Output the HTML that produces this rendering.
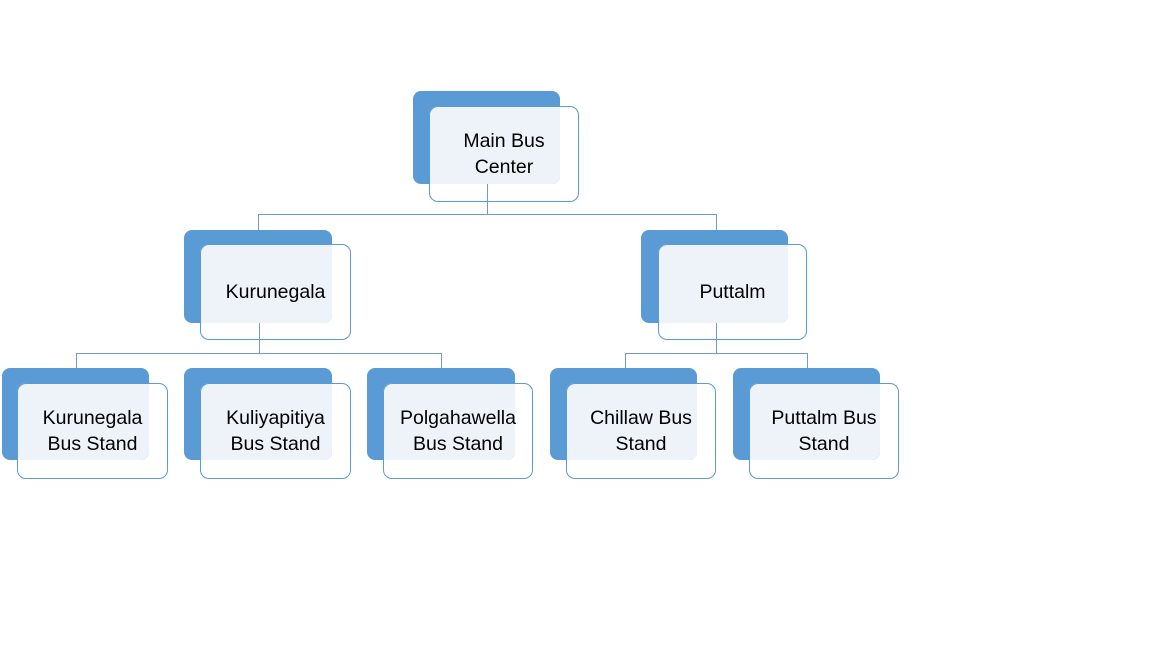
<!DOCTYPE html>
<html><head><meta charset="utf-8"><style>
body{margin:0;width:1152px;height:648px;background:#fff;position:relative;overflow:hidden;font-family:"Liberation Sans",sans-serif}
.b{position:absolute;background:#5b9bd5;border-radius:8px}
.o{position:absolute;background:#eef3fa;border-radius:9px 0 8px 0}
.f{position:absolute;border:1px solid #5b9bd5;border-radius:9px;box-sizing:border-box;display:flex;align-items:center;justify-content:center;text-align:center;font-size:19.5px;line-height:26px;color:#000}
.l{position:absolute;background:#6e9bc8}
</style></head><body>
<div class="l" style="left:487px;top:184px;width:1px;height:31px"></div>
<div class="l" style="left:258px;top:214px;width:459px;height:1px"></div>
<div class="l" style="left:258px;top:214px;width:1px;height:16px"></div>
<div class="l" style="left:716px;top:214px;width:1px;height:16px"></div>
<div class="l" style="left:259px;top:323px;width:1px;height:30px"></div>
<div class="l" style="left:76px;top:353px;width:366px;height:1px"></div>
<div class="l" style="left:76px;top:353px;width:1px;height:15px"></div>
<div class="l" style="left:441px;top:353px;width:1px;height:15px"></div>
<div class="l" style="left:716px;top:323px;width:1px;height:30px"></div>
<div class="l" style="left:625px;top:353px;width:182px;height:1px"></div>
<div class="l" style="left:625px;top:353px;width:1px;height:15px"></div>
<div class="l" style="left:807px;top:353px;width:1px;height:15px"></div>

<div class="b" style="left:413px;top:91px;width:147px;height:93px"></div>
<div class="o" style="left:429px;top:106px;width:131px;height:78px"></div>
<div class="f" style="left:429px;top:106px;width:150px;height:96px">Main Bus<br>Center</div>

<div class="b" style="left:184px;top:230px;width:148px;height:93px"></div>
<div class="o" style="left:200px;top:244px;width:132px;height:79px"></div>
<div class="f" style="left:200px;top:244px;width:151px;height:96px">Kurunegala</div>

<div class="b" style="left:641px;top:230px;width:147px;height:93px"></div>
<div class="o" style="left:658px;top:244px;width:130px;height:79px"></div>
<div class="f" style="left:658px;top:244px;width:149px;height:96px">Puttalm</div>

<div class="b" style="left:2px;top:368px;width:147px;height:92px"></div>
<div class="o" style="left:17px;top:383px;width:132px;height:77px"></div>
<div class="f" style="left:17px;top:383px;width:151px;height:96px">Kurunegala<br>Bus Stand</div>

<div class="b" style="left:184px;top:368px;width:148px;height:92px"></div>
<div class="o" style="left:200px;top:383px;width:132px;height:77px"></div>
<div class="f" style="left:200px;top:383px;width:151px;height:96px">Kuliyapitiya<br>Bus Stand</div>

<div class="b" style="left:367px;top:368px;width:148px;height:92px"></div>
<div class="o" style="left:383px;top:383px;width:132px;height:77px"></div>
<div class="f" style="left:383px;top:383px;width:150px;height:96px">Polgahawella<br>Bus Stand</div>

<div class="b" style="left:550px;top:368px;width:147px;height:92px"></div>
<div class="o" style="left:566px;top:383px;width:131px;height:77px"></div>
<div class="f" style="left:566px;top:383px;width:150px;height:96px">Chillaw Bus<br>Stand</div>

<div class="b" style="left:733px;top:368px;width:147px;height:92px"></div>
<div class="o" style="left:749px;top:383px;width:131px;height:77px"></div>
<div class="f" style="left:749px;top:383px;width:150px;height:96px">Puttalm Bus<br>Stand</div>
</body></html>
